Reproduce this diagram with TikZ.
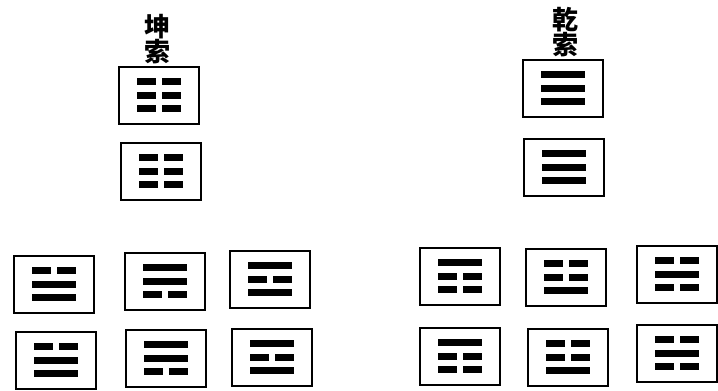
\documentclass[tikz,border=0pt]{standalone}
\usepackage{fontspec}
\newfontfamily\cjk{Noto Sans CJK SC}
\usetikzlibrary{positioning}

\tikzset{
  guabox/.style={draw=black, line width=2pt, minimum width=80pt, minimum height=57pt, inner sep=0pt},
  yao/.style={line width=7pt},
  biao/.style={font=\cjk\bfseries\fontsize{26}{21}\selectfont, align=center, inner sep=0pt}
}

% lines of one trigram inside a box: top, middle, bottom (1 = solid, 0 = broken)
\newcommand{\drawgua}[4]{%
  \foreach \bit [count=\row] in {#2,#3,#4}{
    \pgfmathsetmacro{\yy}{(2-\row)*13.5}
    \ifnum\bit=1
      \draw[yao] (#1.center) ++(-22pt,\yy pt) -- ++(44pt,0pt);
    \else
      \draw[yao] (#1.center) ++(-22pt,\yy pt) -- ++(19pt,0pt);
      \draw[yao] (#1.center) ++(3pt,\yy pt) -- ++(19pt,0pt);
    \fi
  }%
}

\begin{document}
\begin{tikzpicture}[x=1pt, y=-1pt]
  \useasboundingbox (0,0) rectangle (718,391);

  % boxes: name / x / y / top / middle / bottom
  \foreach \nm/\cx/\cy/\a/\b/\c in {
      kunA/159/95/0/0/0, kunB/161/171/0/0/0,
      qianA/563/88/1/1/1, qianB/564/167/1/1/1,
      kunC/54/284/0/1/1, kunD/165/281/1/1/0, kunE/270/279/1/0/1,
      kunF/56/360/0/1/1, kunG/166/358/1/1/0, kunH/272/357/1/0/1,
      qianC/460/276/1/0/0, qianD/566/277/0/0/1, qianE/677/274/0/1/0,
      qianF/460/356/1/0/0, qianG/568/357/0/0/1, qianH/677/353/0/1/0}{
    \node[guabox] (\nm) at (\cx,\cy) {};
    \drawgua{\nm}{\a}{\b}{\c}
  }

  % titles
  \node[biao, above=1pt of kunA, xshift=-2pt] (kunlabel) {坤\\索};
  \node[biao, above=1pt of qianA, xshift=2pt] (qianlabel) {乾\\索};
\end{tikzpicture}
\end{document}
